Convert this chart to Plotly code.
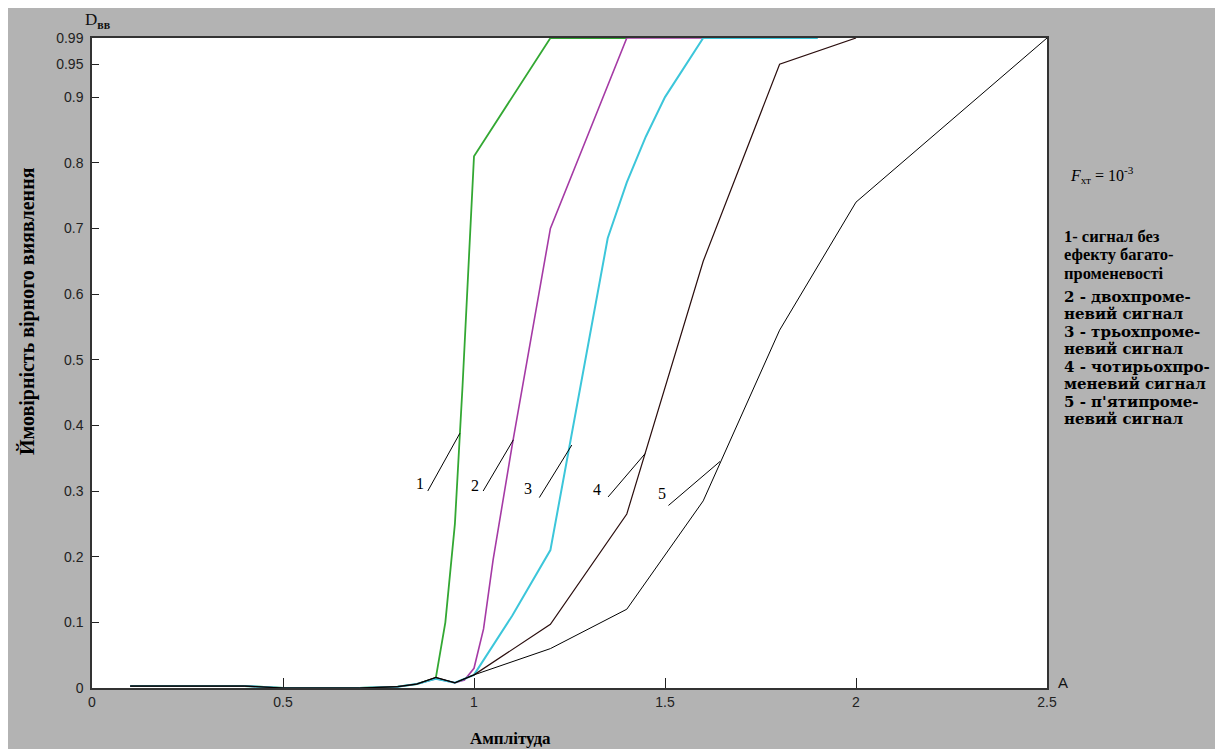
import plotly.graph_objects as go

# ---------------- data ----------------
x1 = [0.1, 0.2, 0.3, 0.4, 0.5, 0.6, 0.7, 0.8, 0.85, 0.9, 0.925, 0.95, 0.97, 1.0, 1.1, 1.2, 1.4]
y1 = [0.003, 0.003, 0.003, 0.003, 0.0, 0.0, 0.0, 0.002, 0.006, 0.015, 0.1, 0.25, 0.46, 0.81, 0.9, 0.99, 0.99]

x2 = [0.1, 0.2, 0.3, 0.4, 0.5, 0.6, 0.7, 0.8, 0.85, 0.9, 0.95, 0.975, 1.0, 1.025, 1.05, 1.1, 1.15, 1.2, 1.3, 1.4, 1.7]
y2 = [0.003, 0.003, 0.003, 0.003, 0.0, 0.0, 0.0, 0.002, 0.006, 0.014, 0.008, 0.012, 0.03, 0.09, 0.195, 0.37, 0.535, 0.7, 0.845, 0.99, 0.99]

x3 = [0.1, 0.2, 0.3, 0.4, 0.5, 0.6, 0.7, 0.8, 0.85, 0.9, 0.95, 1.0, 1.1, 1.2, 1.25, 1.3, 1.35, 1.4, 1.45, 1.5, 1.6, 1.9]
y3 = [0.003, 0.003, 0.003, 0.003, 0.0, 0.0, 0.0, 0.002, 0.006, 0.014, 0.008, 0.02, 0.11, 0.21, 0.37, 0.53, 0.685, 0.77, 0.84, 0.9, 0.99, 0.99]

x4 = [0.1, 0.2, 0.3, 0.4, 0.5, 0.6, 0.7, 0.8, 0.85, 0.9, 0.95, 1.0, 1.2, 1.4, 1.6, 1.8, 2.0]
y4 = [0.003, 0.003, 0.003, 0.003, 0.0, 0.0, 0.0, 0.002, 0.006, 0.016, 0.008, 0.02, 0.097, 0.265, 0.65, 0.95, 0.99]

x5 = [0.1, 0.2, 0.3, 0.4, 0.5, 0.6, 0.7, 0.8, 0.85, 0.9, 0.95, 1.0, 1.2, 1.4, 1.6, 1.8, 2.0, 2.5]
y5 = [0.003, 0.003, 0.003, 0.003, 0.0, 0.0, 0.0, 0.002, 0.006, 0.016, 0.008, 0.02, 0.06, 0.12, 0.285, 0.545, 0.74, 0.99]

curve_labels = ["1", "2", "3", "4", "5"]
label_x = [0.859, 1.003, 1.142, 1.323, 1.491]
label_y = [0.312, 0.309, 0.304, 0.302, 0.297]
leader_start_x = [0.879, 1.024, 1.171, 1.351, 1.509]
leader_start_y = [0.300, 0.300, 0.290, 0.291, 0.278]
leader_end_x = [0.963, 1.103, 1.256, 1.448, 1.644]
leader_end_y = [0.388, 0.378, 0.370, 0.357, 0.345]

x_ticks = [0, 0.5, 1, 1.5, 2, 2.5]
x_ticktext = ["0", "0.5", "1", "1.5", "2", "2.5"]
y_ticks = [0, 0.1, 0.2, 0.3, 0.4, 0.5, 0.6, 0.7, 0.8, 0.9, 0.95, 0.99]
y_ticktext = ["0", "0.1", "0.2", "0.3", "0.4", "0.5", "0.6", "0.7", "0.8", "0.9", "0.95", "0.99"]

legend_first = ["1- сигнал без", "ефекту багато-", "променевості"]
legend_rest = ["2 - двохпроме-", "невий сигнал", "3 - трьохпроме-", "невий сигнал",
               "4 - чотирьохпро-", "меневий сигнал", "5 - п'ятипроме-", "невий сигнал"]

# ---------------- layout helpers ----------------
# the page body has an 8px margin; the figure is sized so that it fills the
# window from (8, 8) to the bottom-right corner
OFF = 8
W, H = 1223 - OFF, 749 - OFF
# plot area in window pixels (reference coordinates)
L_ref, R_ref, T_ref, B_ref = 92, 1047, 38, 688
L, R, T, B = L_ref - OFF, R_ref - OFF, T_ref - OFF, B_ref - OFF


def px_x(px):
    return (px - L_ref) / (R_ref - L_ref)


def px_y(py):
    return (B_ref - py) / (B_ref - T_ref)


GRAY = "#b3b3b3"
SERIF = "Liberation Serif, Times New Roman, serif"
SANS = "Liberation Sans, Arial, sans-serif"

fig = go.Figure()

series = [
    (x1, y1, "#33a833", 1.8),
    (x2, y2, "#a53aa5", 1.6),
    (x3, y3, "#3cc6da", 2.0),
    (x4, y4, "#2a0d0d", 1.2),
    (x5, y5, "#000000", 1.0),
]
for xs, ys, col, w in series:
    fig.add_trace(go.Scatter(x=xs, y=ys, mode="lines",
                             line=dict(color=col, width=w), showlegend=False,
                             hoverinfo="skip"))

shapes = []
for i in range(5):
    shapes.append(dict(type="line", xref="x", yref="y",
                       x0=leader_start_x[i], y0=leader_start_y[i],
                       x1=leader_end_x[i], y1=leader_end_y[i],
                       line=dict(color="black", width=1)))

annotations = []
for i in range(5):
    annotations.append(dict(x=label_x[i], y=label_y[i], xref="x", yref="y",
                            text=curve_labels[i], showarrow=False,
                            font=dict(family=SERIF, size=16, color="black")))

# y-axis title
annotations.append(dict(x=px_x(27), y=px_y(311), xref="paper", yref="paper",
                        text="<b>Ймовірність вірного виявлення</b>", textangle=-90,
                        showarrow=False, xanchor="center", yanchor="middle",
                        font=dict(family=SERIF, size=20, color="black")))
# x-axis title
annotations.append(dict(x=px_x(510), y=px_y(739), xref="paper", yref="paper",
                        text="<b>Амплітуда</b>", showarrow=False,
                        xanchor="center", yanchor="middle",
                        font=dict(family=SERIF, size=17, color="black")))
# D label
annotations.append(dict(x=px_x(83), y=px_y(21), xref="paper", yref="paper",
                        text="D<sub><b>вв</b></sub>", showarrow=False,
                        xanchor="left", yanchor="middle",
                        font=dict(family=SERIF, size=17, color="#111")))
# A label
annotations.append(dict(x=px_x(1056), y=px_y(682), xref="paper", yref="paper",
                        text="A", showarrow=False, xanchor="left", yanchor="middle",
                        font=dict(family=SANS, size=15, color="#111")))
# F label
annotations.append(dict(x=px_x(1068), y=px_y(175), xref="paper", yref="paper",
                        text="<i>F</i><sub>хт</sub> = 10<sup>-3</sup>", showarrow=False,
                        xanchor="left", yanchor="middle",
                        font=dict(family=SERIF, size=16, color="black")))
# right-hand description
first_y = [237, 255, 273]
for t, yy in zip(legend_first, first_y):
    annotations.append(dict(x=px_x(1062), y=px_y(yy), xref="paper", yref="paper",
                            text="<b>" + t + "</b>", showarrow=False,
                            xanchor="left", yanchor="middle",
                            font=dict(family=SERIF, size=16.5, color="black")))
rest_y = [297, 314, 332, 349, 367, 384, 402, 419]
for t, yy in zip(legend_rest, rest_y):
    annotations.append(dict(x=px_x(1062), y=px_y(yy), xref="paper", yref="paper",
                            text="<b>" + t + "</b>", showarrow=False,
                            xanchor="left", yanchor="middle",
                            font=dict(family="DejaVu Serif, serif", size=15, color="black")))

fig.update_layout(
    width=W, height=H,
    margin=dict(l=L, r=W - R, t=T, b=H - B, pad=0),
    paper_bgcolor=GRAY, plot_bgcolor="white",
    shapes=shapes, annotations=annotations,
    showlegend=False,
)
fig.update_xaxes(range=[0, 2.5], tickvals=x_ticks, ticktext=x_ticktext,
                 ticks="inside", ticklen=10, tickcolor="#222", tickwidth=1,
                 showline=True, linecolor="#333", linewidth=1.5, mirror=True,
                 showgrid=False, zeroline=False,
                 tickfont=dict(family=SANS, size=14, color="#222"))
fig.update_yaxes(range=[0, 0.99], tickvals=y_ticks, ticktext=y_ticktext,
                 ticks="inside", ticklen=7, tickcolor="#222", tickwidth=1,
                 showline=True, linecolor="#333", linewidth=1.5, mirror=True,
                 showgrid=False, zeroline=False, ticklabelstandoff=4,
                 tickfont=dict(family=SANS, size=14, color="#222"))

fig.write_html("out.html")
